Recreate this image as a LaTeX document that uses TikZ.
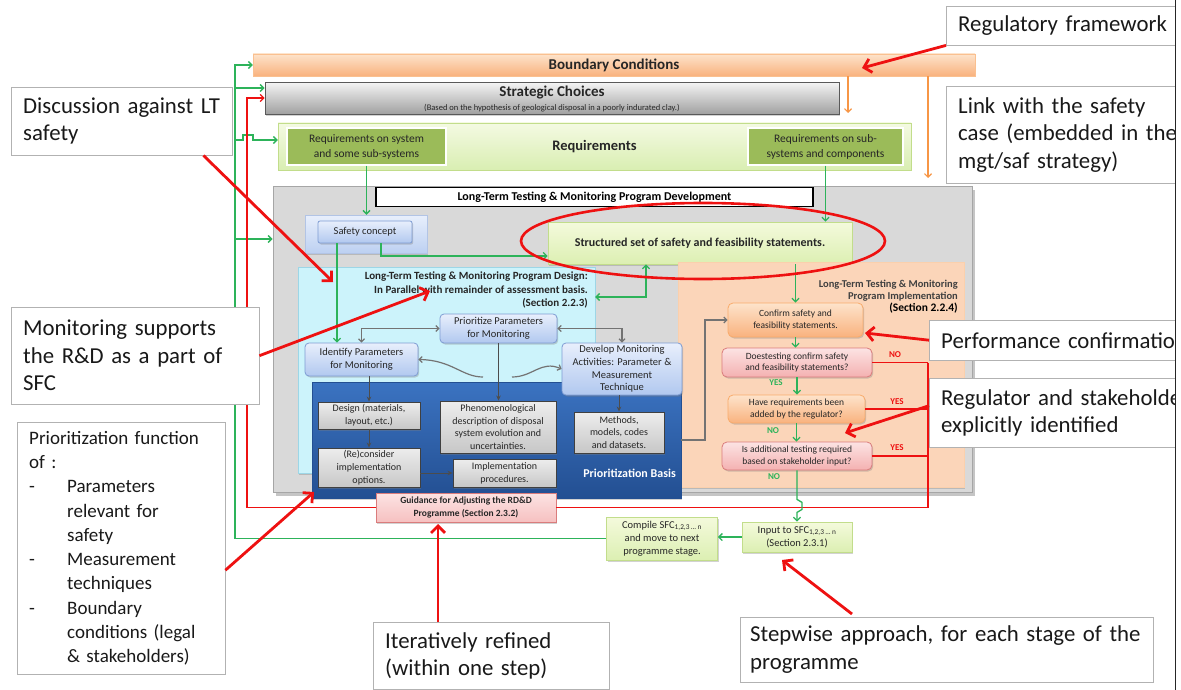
\documentclass[tikz,border=0pt]{standalone}
\usepackage{fontspec}
\setmainfont{Carlito}
\usetikzlibrary{arrows.meta,shadows}

\definecolor{orgtop}{HTML}{FDE3CB}
\definecolor{orgbot}{HTML}{F9B27E}
\definecolor{orgline}{HTML}{F79646}
\definecolor{grtop}{HTML}{F2F2F2}
\definecolor{grbot}{HTML}{9E9E9E}
\definecolor{reqtop}{HTML}{F4FAE2}
\definecolor{reqbot}{HTML}{D9EEB2}
\definecolor{reqline}{HTML}{C2DD8B}
\definecolor{olive}{HTML}{9BBB59}
\definecolor{devfill}{HTML}{D9D9D9}
\definecolor{bltop}{HTML}{E8EFFC}
\definecolor{blbot}{HTML}{B1C8EF}
\definecolor{blline}{HTML}{7E9CD3}
\definecolor{cyanfill}{HTML}{CCF3FB}
\definecolor{cyanline}{HTML}{9DD6E6}
\definecolor{peach}{HTML}{FBD5B9}
\definecolor{basistop}{HTML}{3B73C1}
\definecolor{basisbot}{HTML}{234F92}
\definecolor{pinktop}{HTML}{FCE3E3}
\definecolor{pinkbot}{HTML}{F4B1B1}
\definecolor{pinkline}{HTML}{DA7C7C}
\definecolor{lgtop}{HTML}{F4FADC}
\definecolor{lgbot}{HTML}{DCEFB2}
\definecolor{grn}{HTML}{2DB35A}
\definecolor{rd}{HTML}{EE1111}

\begin{document}
\begin{tikzpicture}[x=1pt, y=-1pt,
	txt/.style={inner sep=1pt, align=center, text=black!85},
	grad/.style 2 args={top color=#1, bottom color=#2},
	soft/.style={drop shadow={shadow xshift=1.2pt, shadow yshift=-1.5pt, opacity=.35}},
	bar/.style={txt, soft, font=\fontsize{15}{17}\selectfont\bfseries},
	olivebox/.style={txt, fill=olive, draw=white, line width=1.2pt, soft, font=\fontsize{11.5}{15}\selectfont},
	bluebox/.style={txt, soft, rounded corners=4pt, draw=blline, line width=.8pt, grad={bltop}{blbot}, font=\fontsize{10.5}{12.7}\selectfont},
	graybox/.style={txt, soft, draw=black!75, line width=.9pt, grad={black!7}{black!22}, font=\fontsize{10}{12.8}\selectfont},
	askbox/.style={txt, soft, rounded corners=5pt, line width=.8pt, font=\fontsize{9.5}{11.8}\selectfont},
	greenbox/.style={txt, soft, draw=reqline, line width=.8pt, grad={lgtop}{lgbot}},
	note/.style={draw=black!30, fill=white, align=left, anchor=north west, inner xsep=12pt, inner ysep=0pt, text=black!90, font=\fontsize{22.8}{27.5}\selectfont},
	gline/.style={draw=grn, line width=1.3pt},
	garrow/.style={gline, -{Straight Barb[length=3.5pt,width=7pt]}},
	gboth/.style={gline, {Straight Barb[length=3.5pt,width=7pt]}-{Straight Barb[length=3.5pt,width=7pt]}},
	rline/.style={draw=rd, line width=1.2pt},
	rarrow/.style={rline, -{Straight Barb[length=3.5pt,width=7pt]}},
	oarrow/.style={draw=orgline, line width=1.2pt, -{Straight Barb[length=3.5pt,width=7pt]}},
	darrow/.style={draw=black!70, line width=1pt, -{Stealth[length=5pt,width=4.5pt]}},
	warrow/.style={draw=black!55, line width=1.2pt, -{Straight Barb[length=3pt,width=6pt]}},
	wboth/.style={draw=black!55, line width=1.2pt, {Straight Barb[length=3pt,width=6pt]}-{Straight Barb[length=3pt,width=6pt]}},
	noteline/.style={draw=rd, line width=2.8pt, -{Straight Barb[length=7pt,width=14pt]}},
	yes/.style={font=\fontsize{9}{10}\selectfont\bfseries, inner sep=0pt}
	]
	\useasboundingbox (0,0) rectangle (1181,690);
	\fill[white] (0,0) rectangle (1181,690);

	\node[bar, draw=orgline!60, grad={orgtop}{orgbot}, minimum width=722pt, minimum height=22pt] (boundary) at (614,65) {Boundary Conditions};
	\node[bar, draw=black!65, line width=1pt, grad={grtop}{grbot}, minimum width=574pt, minimum height=32pt] (strategic) at (552,99) {Strategic Choices\\[-3pt]{\fontsize{8.5}{9}\selectfont\mdseries (Based on the hypothesis of geological disposal in a poorly indurated clay.)}};
	\node[bar, draw=reqline, grad={reqtop}{reqbot}, font=\fontsize{14.5}{17}\selectfont\bfseries, minimum width=633pt, minimum height=47pt] (req) at (594.5,146.5) {Requirements};
	\node[olivebox, minimum width=159pt, minimum height=37pt] (reqsys) at (366.5,146.5) {Requirements on system\\and some sub-systems};
	\node[olivebox, minimum width=155pt, minimum height=37pt] (reqsub) at (825.5,146.5) {Requirements on sub-\\systems and components};

	\node[fill=devfill, draw=black!35, line width=1pt, drop shadow={shadow xshift=3pt, shadow yshift=-4pt, fill=black!45}, minimum width=699pt, minimum height=306pt] (dev) at (622.5,339) {};
	\node[draw=black, line width=1.5pt, fill=white, inner sep=0pt, font=\fontsize{12}{13}\selectfont\bfseries, minimum width=437pt, minimum height=19pt] (devtitle) at (594.5,197) {Long-Term Testing \& Monitoring Program Development};
	\node[soft, draw=blline!60, grad={bltop}{blbot!85}, minimum width=122pt, minimum height=38pt] (safetybox) at (366,234) {};
	\node[bluebox, rounded corners=2pt, minimum width=94pt, minimum height=22pt] (safety) at (365,232) {Safety concept};
	\node[greenbox, font=\fontsize{12}{14}\selectfont\bfseries, minimum width=304pt, minimum height=42pt] (structured) at (700,243) {Structured set of safety and feasibility statements.};

	\node[soft, fill=cyanfill, draw=cyanline, minimum width=297pt, minimum height=206pt] (design) at (446.5,370) {};
	\node[anchor=north east, align=right, inner sep=0pt, text=black!85, font=\fontsize{11}{13.5}\selectfont\bfseries] (designtitle) at (588,272) {Long-Term Testing \& Monitoring Program Design:\\In Parallel with remainder of assessment basis.\\(Section 2.2.3)};
	\node[soft, fill=peach, draw=orgline!45, minimum width=286pt, minimum height=225pt] (impl) at (821,374.5) {};
	\node[anchor=north east, align=right, inner sep=0pt, text=black!75, font=\fontsize{10.5}{12}\selectfont\bfseries] (impltitle) at (958,280) {Long-Term Testing \& Monitoring\\Program Implementation\\{\color{black}\fontsize{11.5}{14}\selectfont(Section 2.2.4)}};
	\node[soft, draw=basisbot, grad={basistop}{basisbot}, minimum width=369pt, minimum height=116pt] (basis) at (496.5,440) {};
	\node[anchor=base east, inner sep=0pt, text=white, font=\fontsize{12}{14}\selectfont\bfseries] (basislabel) at (676,477) {Prioritization Basis};

	\node[bluebox, minimum width=117pt, minimum height=29pt] (prioritize) at (498.5,328.5) {Prioritize Parameters\\for Monitoring};
	\node[bluebox, minimum width=113pt, minimum height=33pt] (identify) at (361.5,359.5) {Identify Parameters\\for Monitoring};
	\node[bluebox, minimum width=120pt, minimum height=52pt] (develop) at (622,369) {Develop Monitoring\\Activities: Parameter \&\\Measurement\\Technique};
	\node[graybox, minimum width=102pt, minimum height=27pt] (designmat) at (369,415.5) {Design (materials,\\layout, etc.)};
	\node[graybox, minimum width=102pt, minimum height=39pt] (reconsider) at (369,467.5) {(Re)consider\\implementation\\options.};
	\node[graybox, minimum width=116pt, minimum height=52pt] (phenom) at (498,427) {Phenomenological\\description of disposal\\system evolution and\\uncertainties.};
	\node[graybox, minimum width=103pt, minimum height=28pt] (procedures) at (504.5,473) {Implementation\\procedures.};
	\node[graybox, minimum width=90pt, minimum height=41pt] (methods) at (619,432.5) {Methods,\\models, codes\\and datasets.};

	\node[askbox, draw=orgline!80, grad={orgtop}{orgbot}, minimum width=135pt, minimum height=34pt] (confirm) at (795.5,320) {Confirm safety and\\feasibility statements.};
	\node[askbox, draw=pinkline, grad={pinktop}{pinkbot}, minimum width=150pt, minimum height=29pt] (doestest) at (797,362.5) {Doestesting confirm safety\\and feasibility statements?};
	\node[askbox, draw=orgline!80, grad={orgtop}{orgbot}, minimum width=137pt, minimum height=28pt] (havereq) at (796.5,409) {Have requirements been\\added by the regulator?};
	\node[askbox, draw=pinkline, grad={pinktop}{pinkbot}, minimum width=150pt, minimum height=28pt] (addtest) at (797,456) {Is additional testing required\\based on stakeholder input?};

	\node[txt, soft, draw=pinkline, grad={pinktop}{pinkbot!80}, font=\fontsize{9.5}{13}\selectfont\bfseries, minimum width=180pt, minimum height=29pt] (guidance) at (466,507.5) {Guidance for Adjusting the RD\&D\\Programme (Section 2.3.2)};
	\node[greenbox, font=\fontsize{10.5}{13}\selectfont, minimum width=110pt, minimum height=30pt] (input) at (797,537) {Input to SFC\textsubscript{1,2,3\,...\,n}\\(Section 2.3.1)};
	\node[greenbox, font=\fontsize{10.5}{13}\selectfont, minimum width=111pt, minimum height=43pt] (compile) at (662,538.5) {Compile SFC\textsubscript{1,2,3\,...\,n}\\and move to next\\programme stage.};

	\node[yes, text=rd] (no1) at (895,355) {NO};
	\node[yes, text=grn] (yes1) at (776,383) {YES};
	\node[yes, text=rd] (yes2) at (897,402) {YES};
	\node[yes, text=grn] (no2) at (773,431) {NO};
	\node[yes, text=rd] (yes3) at (897,448) {YES};
	\node[yes, text=grn] (no3) at (774,477) {NO};

	\coordinate (busT) at (235,65);
	\coordinate (gS) at (235,88);
	\coordinate (gR) at (235,140);
	\coordinate (gV) at (235,239);
	\coordinate (redT) at (247,98);
	\coordinate (redR) at (928,0);
	\coordinate (orgA) at (848,113);
	\coordinate (orgB) at (928,178);
	\coordinate (gA) at (337,0);
	\coordinate (gB) at (381,256);
	\coordinate (gC) at (646,297);
	\coordinate (gD) at (705,320);
	\coordinate (wL) at (483,377);
	\coordinate (wR) at (512,377);

	\draw[garrow] (compile.west) -| (busT) -- (boundary.west |- busT);
	\draw[garrow] (gS) -- (strategic.west |- gS);
	\draw[garrow] (gR) -- ++(8,0) -- ++(0,-5) -- ++(10,0) -- ++(0,5) -- (req.west |- gR);
	\draw[garrow] (gV) -- (dev.west |- gV);
	\draw[garrow] (input.west) -- (compile.east |- input.west);

	\draw[rline] (doestest.east) -- (doestest.east -| redR);
	\draw[rline] (havereq.east) -- (havereq.east -| redR);
	\draw[rline] (addtest.east) -- (addtest.east -| redR);
	\draw[rline] (doestest.east -| redR) |- (guidance.east);
	\draw[rarrow] (guidance.west) -| (redT) -- (strategic.west |- redT);

	\draw[oarrow] (boundary.south -| orgA) -- (orgA);
	\draw[oarrow] (boundary.south -| orgB) -- (orgB);

	\draw[garrow] (reqsys.south) -- (reqsys.south |- safetybox.north);
	\draw[garrow] (reqsub.south) -- (reqsub.south |- structured.north);
	\draw[garrow] (safety.south -| gA) -- (identify.north -| gA);
	\draw[garrow] (safety.south -| gB) |- (structured.west |- gB);
	\draw[gboth] (structured.south -| gC) |- (design.east |- gC);
	\draw[garrow] (confirm.north |- structured.south) -- (confirm.north);
	\draw[garrow] (confirm.south) -- (confirm.south |- doestest.north);
	\draw[garrow] (doestest.south) -- (doestest.south |- havereq.north);
	\draw[garrow] (havereq.south) -- (havereq.south |- addtest.north);
	\draw[garrow] (addtest.south) -- ++(0,29) -- ++(5,3) -- ++(0,7) -- ++(-5,3) -- (input.north);

	\draw[wboth] (prioritize.west) -| (identify.north);
	\draw[wboth] (prioritize.east) -| (develop.north);
	\draw[warrow] (wL) .. controls (462,377) and (452,360) .. (identify.east);
	\draw[warrow] (wR) .. controls (533,377) and (541,360) .. (develop.west);
	\draw[darrow] (prioritize.south) -- (prioritize.south |- phenom.north);
	\draw[darrow] (designmat.north |- identify.south) -- (designmat.north);
	\draw[darrow] (designmat.south) -- (reconsider.north);
	\draw[darrow] (reconsider.east |- procedures.west) -- (procedures.west);
	\draw[darrow] (develop.south -| methods.north) -- (methods.north);
	\draw[warrow] (basis.east) -| (gD) -- (confirm.west);

	\draw[rd, line width=2.6pt] (703,241) ellipse [x radius=182pt, y radius=38pt];

	\node[note, text width=197pt, minimum height=68pt] (discuss) at (11,87) {Discussion against LT\\safety};
	\node[note, text width=224pt, minimum height=97pt] (monitor) at (11,307) {Monitoring supports\\the R\&D as a part of\\SFC};
	\node[note, text width=184pt, minimum height=252pt, font=\fontsize{19}{24.3}\selectfont] (prior) at (17,422) {Prioritization function\\of :\\\makebox[38pt][l]{-}Parameters\\\hspace*{38pt}relevant for\\\hspace*{38pt}safety\\\makebox[38pt][l]{-}Measurement\\\hspace*{38pt}techniques\\\makebox[38pt][l]{-}Boundary\\\hspace*{38pt}conditions (legal\\\hspace*{38pt}\& stakeholders)};
	\node[note, text width=212pt, minimum height=67pt] (iter) at (373,622) {Iteratively refined\\(within one step)};
	\node[note, text width=393pt, inner xsep=10pt, minimum height=65pt] (stepwise) at (740,617) {Stepwise approach, for each stage of the\\programme};
	\begin{scope}
		\clip (0,0) rectangle (1175,690);
		\node[note, text width=262pt, minimum height=39pt] (regfw) at (946,6) {Regulatory framework};
		\node[note, text width=262pt, minimum height=97pt] (link) at (946,86) {Link with the safety\\case (embedded in the\\mgt/saf strategy)};
		\node[note, text width=262pt, minimum height=40pt] (perf) at (929,320) {Performance confirmation};
		\node[note, text width=262pt, minimum height=69pt] (regstake) at (929,378) {Regulator and stakeholder\\explicitly identified};
	\end{scope}
	\draw[black!85, line width=1.3pt] (1175.5,0) -- (1175.5,690);

	\coordinate (tipReg) at (862,68);
	\coordinate (tipDis) at (333,282);
	\coordinate (tipMon) at (430,291);
	\coordinate (tipPri) at (314,492);
	\coordinate (tipPer) at (865,333);
	\coordinate (tipSta) at (845,433);
	\coordinate (tipIt) at (438,524);
	\coordinate (tipStp) at (782,560);
	\draw[noteline] (regfw.south west) -- (tipReg);
	\draw[noteline] ([xshift=-29pt]discuss.south east) -- (tipDis);
	\draw[noteline] (monitor.east) -- (tipMon);
	\draw[noteline] ([yshift=-22pt]prior.east) -- (tipPri);
	\draw[noteline] (perf.west) -- (tipPer);
	\draw[noteline] ([yshift=7pt]regstake.west) -- (tipSta);
	\draw[noteline] ([xshift=65pt]iter.north west) -- (tipIt);
	\draw[noteline] ([xshift=112pt,yshift=3pt]stepwise.north west) -- (tipStp);
\end{tikzpicture}
\end{document}
